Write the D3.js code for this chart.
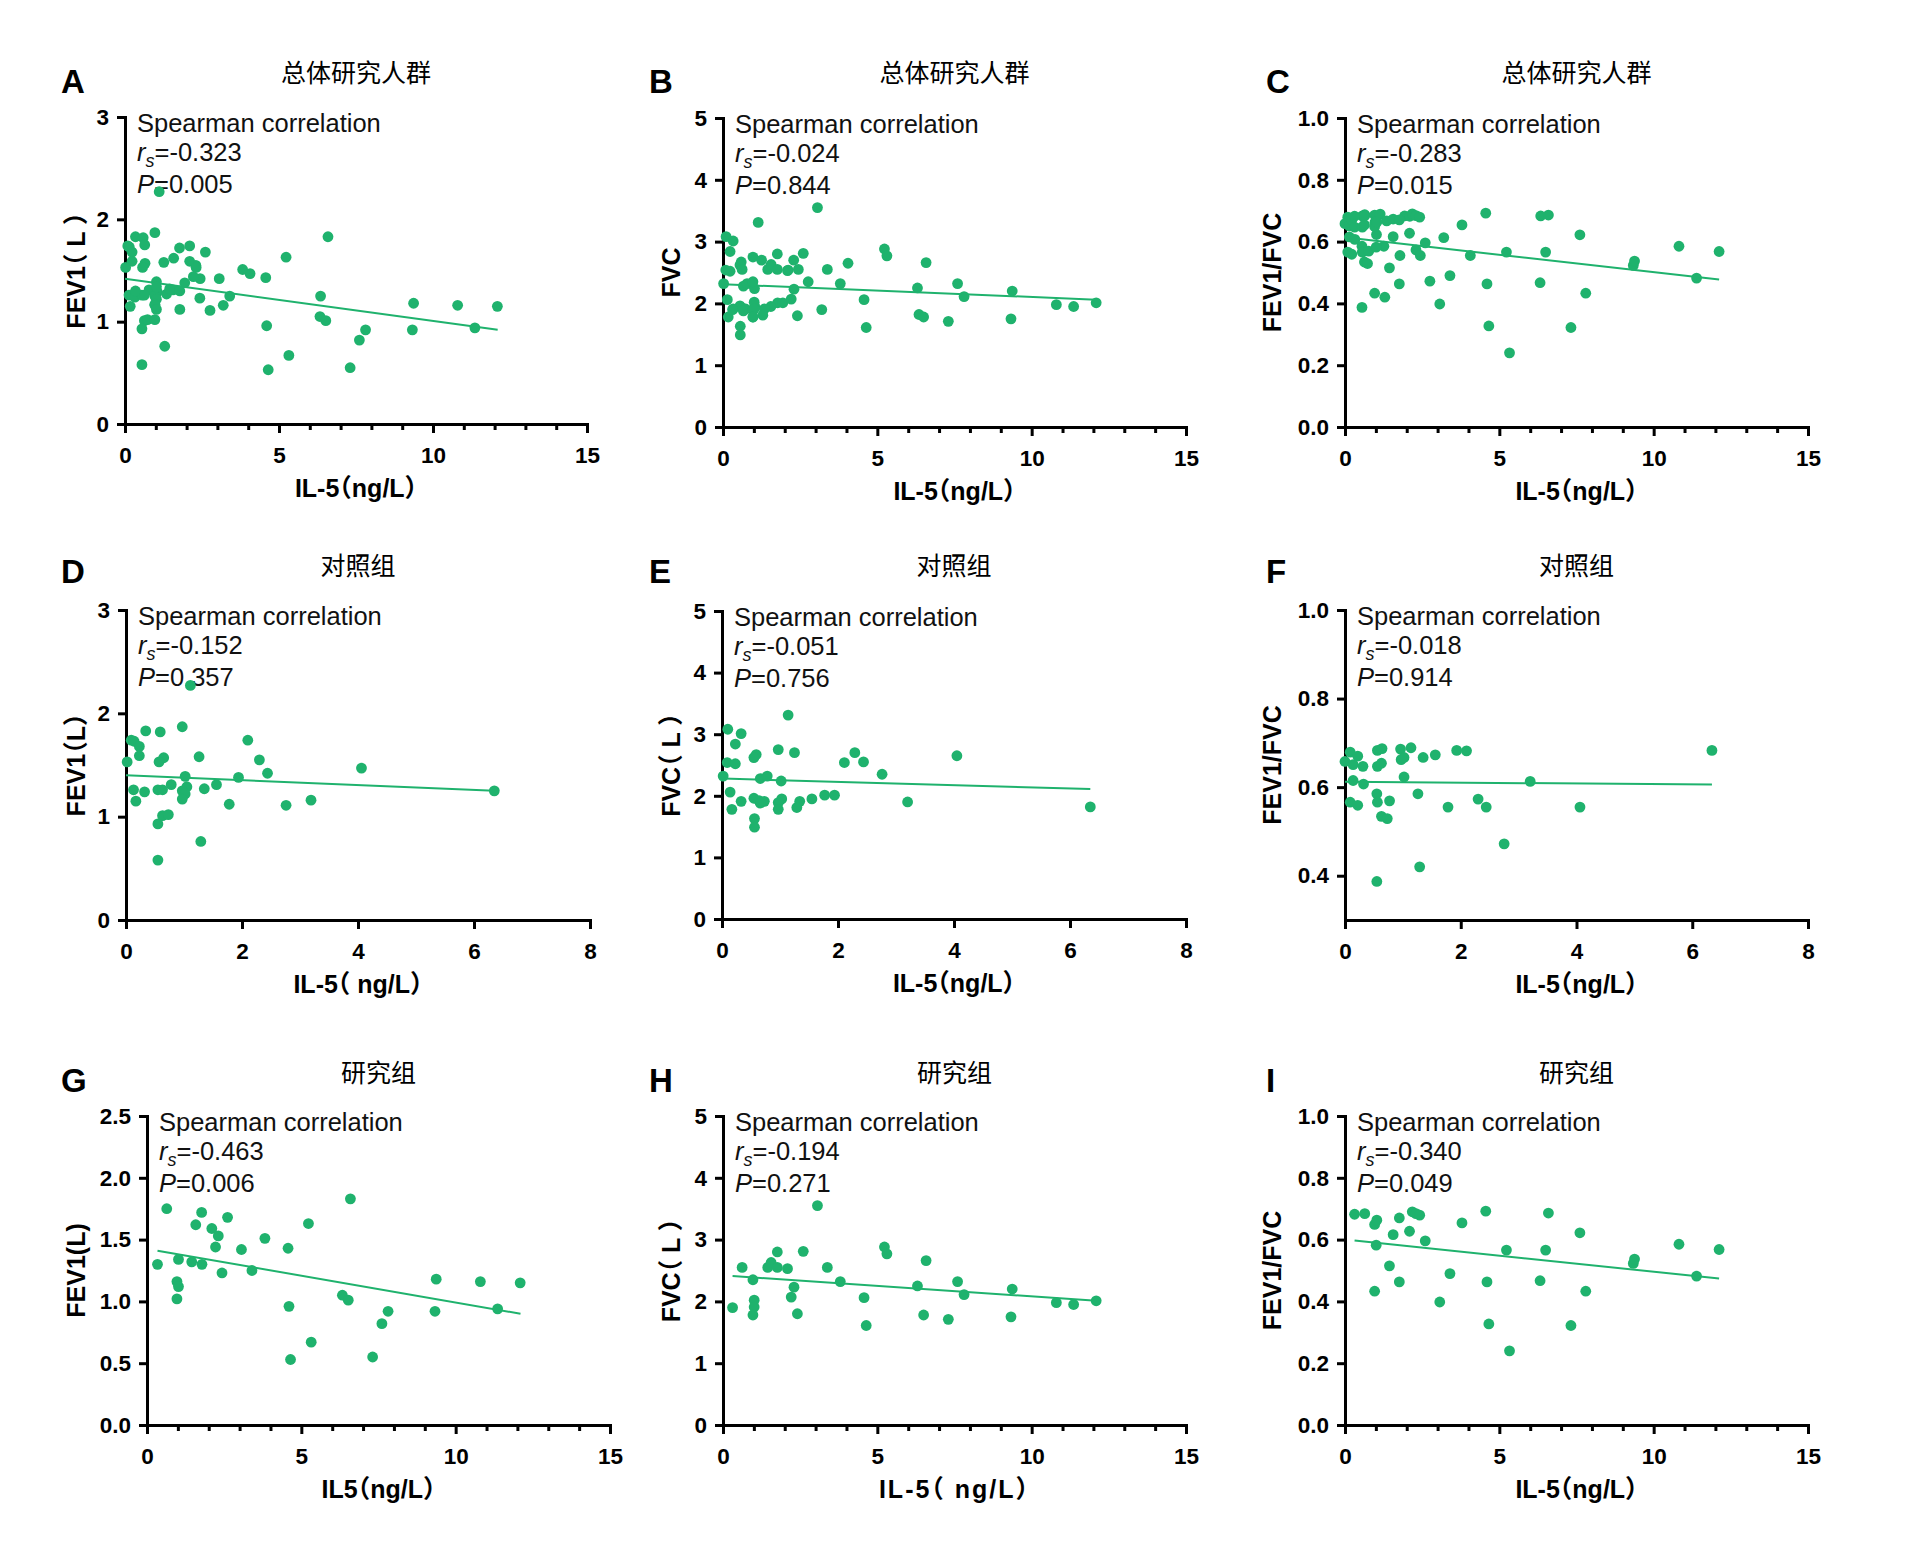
<!DOCTYPE html>
<html>
<head>
<meta charset="utf-8">
<script src="https://cdn.jsdelivr.net/npm/d3@7"></script>
<style>
  body { margin: 0; background: #fff; }
  text { font-family: "Liberation Sans", Arial, "Noto Sans CJK SC", sans-serif; }
</style>
</head>
<body>
<div id="chart"></div>
<script>
const green = "#1fb26d";

// control group (D, E, F) : [IL-5, value]
const ctrlFev1 = [[1.11,2.27],[0.97,1.87],[0.34,1.83],[0.59,1.82],[0.09,1.74],[0.14,1.73],[0.23,1.68],[2.10,1.74],
  [0.23,1.59],[0.65,1.57],[0.57,1.53],[1.26,1.58],[0.02,1.53],[2.30,1.55],[2.44,1.42],[4.06,1.47],[1.94,1.38],
  [1.02,1.39],[0.78,1.31],[1.56,1.31],[0.13,1.26],[0.32,1.24],[0.55,1.26],[0.63,1.26],[1.05,1.29],[0.97,1.25],
  [1.02,1.22],[0.97,1.17],[1.35,1.27],[0.17,1.15],[1.78,1.12],[2.76,1.11],[3.19,1.16],[6.35,1.25],[0.63,1.01],
  [0.73,1.02],[0.55,0.93],[1.29,0.76],[0.55,0.58]];
const ctrlFvc = [[1.14,3.31],[0.10,3.08],[0.33,3.01],[0.23,2.84],[0.97,2.75],[1.25,2.70],[2.29,2.70],[0.59,2.67],
  [0.55,2.62],[4.05,2.65],[2.11,2.54],[2.44,2.55],[0.09,2.54],[0.23,2.52],[2.76,2.35],[0.02,2.32],[0.66,2.28],
  [0.78,2.32],[1.02,2.24],[0.14,2.06],[0.55,1.96],[1.77,2.01],[1.94,2.01],[1.55,1.95],[1.03,1.95],[0.33,1.91],
  [0.64,1.92],[0.73,1.91],[0.66,1.88],[0.97,1.89],[1.34,1.91],[1.29,1.81],[0.97,1.78],[0.17,1.78],[3.20,1.90],
  [6.35,1.82],[0.56,1.63],[0.56,1.49]];
const ctrlRatio = [[0.09,0.679],[0.00,0.658],[0.14,0.651],[0.22,0.670],[0.31,0.647],[0.14,0.615],[0.32,0.607],
  [0.09,0.566],[0.22,0.559],[0.56,0.683],[0.64,0.687],[0.56,0.647],[0.63,0.654],[0.55,0.585],[0.56,0.566],
  [0.63,0.534],[0.73,0.529],[0.77,0.569],[0.55,0.387],[0.96,0.686],[0.97,0.662],[1.02,0.667],[1.14,0.689],
  [1.02,0.623],[1.35,0.667],[1.56,0.673],[1.26,0.585],[1.29,0.420],[1.93,0.683],[2.10,0.682],[1.78,0.555],
  [2.30,0.573],[2.44,0.555],[2.75,0.472],[3.20,0.613],[4.06,0.555],[6.34,0.683]];

// study group (G, H, I)
const studyFev1 = [[0.34,1.30],[0.64,1.75],[1.02,1.34],[0.97,1.16],[1.02,1.12],[0.97,1.02],[1.45,1.32],[1.58,1.62],
  [1.77,1.72],[1.78,1.30],[2.10,1.59],[2.22,1.44],[2.31,1.53],[2.43,1.23],[2.61,1.68],[3.06,1.42],[3.40,1.25],
  [3.82,1.51],[4.57,1.43],[4.60,0.96],[4.65,0.53],[5.23,1.63],[5.32,0.67],[6.33,1.05],[6.52,1.01],[6.59,1.83],
  [7.31,0.55],[7.61,0.82],[7.81,0.92],[9.33,0.92],[9.37,1.18],[10.80,1.16],[11.36,0.94],[12.09,1.15]];
const studyFvc = [[0.31,1.90],[0.62,2.55],[0.97,2.35],[1.01,2.02],[1.01,1.91],[0.97,1.78],[1.45,2.55],[1.56,2.63],
  [1.76,2.80],[1.76,2.55],[2.09,2.53],[2.21,2.07],[2.30,2.23],[2.41,1.80],[2.60,2.81],[3.06,3.55],[3.38,2.55],
  [3.80,2.32],[4.57,2.06],[4.64,1.61],[5.23,2.88],[5.31,2.77],[6.30,2.25],[6.50,1.78],[6.58,2.66],[7.30,1.71],
  [7.60,2.32],[7.81,2.11],[9.33,1.75],[9.37,2.20],[10.80,1.98],[11.36,1.95],[12.09,2.01]];
const studyRatio = [[0.31,0.682],[0.64,0.684],[0.96,0.649],[1.03,0.663],[1.01,0.582],[0.96,0.433],[1.44,0.515],
  [1.56,0.616],[1.76,0.670],[1.76,0.463],[2.09,0.627],[2.18,0.690],[2.30,0.684],[2.42,0.679],[2.60,0.596],
  [3.07,0.398],[3.40,0.490],[3.79,0.654],[4.56,0.692],[4.60,0.463],[4.66,0.327],[5.23,0.566],[5.33,0.240],
  [6.32,0.467],[6.50,0.566],[6.59,0.686],[7.32,0.322],[7.61,0.622],[7.80,0.433],[9.34,0.523],[9.38,0.537],
  [10.82,0.585],[11.39,0.482],[12.12,0.568]];

// whole population = control + study
const allFev1 = ctrlFev1.concat(studyFev1);
const allFvc = ctrlFvc.concat(studyFvc);
const allRatio = ctrlRatio.concat(studyRatio);

// fitted lines, [start, end]
const fitA = [[0, 1.42], [12.1, 0.92]];
const fitB = [[0, 2.31], [12.09, 2.06]];
const fitC = [[0.05, 0.613], [12.12, 0.477]];
const fitD = [[0, 1.40], [6.35, 1.25]];
const fitE = [[0.02, 2.28], [6.35, 2.11]];
const fitF = [[0, 0.612], [6.34, 0.606]];
const fitG = [[0.34, 1.41], [12.1, 0.90]];
const fitH = [[0.31, 2.41], [12.1, 2.01]];
const fitI = [[0.31, 0.597], [12.12, 0.474]];

const panelLetters = ["A","B","C","D","E","F","G","H","I"];
const rsValues = ["-0.323","-0.024","-0.283","-0.152","-0.051","-0.018","-0.463","-0.194","-0.340"];
const pValues = ["0.005","0.844","0.015","0.357","0.756","0.914","0.006","0.271","0.049"];
const groupTitles = ["总体研究人群", "对照组", "研究组"];
const yTitles = ["FEV1（ L ）","FVC","FEV1/FVC","FEV1（L）","FVC（ L ）","FEV1/FVC","FEV1(L)","FVC（ L ）","FEV1/FVC"];
const xTitles = ["IL-5（ng/L）","IL-5（ng/L）","IL-5（ng/L）","IL-5（ ng/L）","IL-5（ng/L）","IL-5（ng/L）",
  "IL5（ng/L）","IL-5（ ng/L）","IL-5（ng/L）"];

const xTicks15 = [0, 5, 10, 15];
const xMinor15 = [1,2,3,4,6,7,8,9,11,12,13,14];
const xTicks8 = [0, 2, 4, 6, 8];
const yTicks3 = [0, 1, 2, 3];
const yTicks5 = [0, 1, 2, 3, 4, 5];
const yTicks25 = [0, 0.5, 1.0, 1.5, 2.0, 2.5];
const yTicksRatio = [0, 0.2, 0.4, 0.6, 0.8, 1.0];
const yTicksRatioCtrl = [0.4, 0.6, 0.8, 1.0];

// layout
const rowLetterY = [93, 583, 1092];
const rowTitleY = [82, 575, 1082];
const colLetterX = [61, 649, 1266];
const colYTitleX = [85, 680, 1281];

const panels = [
  { row:0, col:0, x0:125, x1:587, y0:117, y1:424, xd:[0,15], yd:[0,3], xt:xTicks15, minor:xMinor15, yt:yTicks3, yf:"d", pts:allFev1, fit:fitA },
  { row:0, col:1, x0:723, x1:1186, y0:118, y1:427, xd:[0,15], yd:[0,5], xt:xTicks15, minor:xMinor15, yt:yTicks5, yf:"d", pts:allFvc, fit:fitB },
  { row:0, col:2, x0:1345, x1:1808, y0:118, y1:427, xd:[0,15], yd:[0,1], xt:xTicks15, minor:xMinor15, yt:yTicksRatio, yf:".1f", pts:allRatio, fit:fitC },
  { row:1, col:0, x0:126, x1:590, y0:610, y1:920, xd:[0,8], yd:[0,3], xt:xTicks8, minor:[], yt:yTicks3, yf:"d", pts:ctrlFev1, fit:fitD },
  { row:1, col:1, x0:722, x1:1186, y0:611, y1:919, xd:[0,8], yd:[0,5], xt:xTicks8, minor:[], yt:yTicks5, yf:"d", pts:ctrlFvc, fit:fitE },
  { row:1, col:2, x0:1345, x1:1808, y0:610, y1:920, xd:[0,8], yd:[0.3,1], xt:xTicks8, minor:[], yt:yTicksRatioCtrl, yf:".1f", pts:ctrlRatio, fit:fitF },
  { row:2, col:0, x0:147, x1:610, y0:1116, y1:1425, xd:[0,15], yd:[0,2.5], xt:xTicks15, minor:xMinor15, yt:yTicks25, yf:".1f", pts:studyFev1, fit:fitG },
  { row:2, col:1, x0:723, x1:1186, y0:1116, y1:1425, xd:[0,15], yd:[0,5], xt:xTicks15, minor:xMinor15, yt:yTicks5, yf:"d", pts:studyFvc, fit:fitH, xSpacing:2 },
  { row:2, col:2, x0:1345, x1:1808, y0:1116, y1:1425, xd:[0,15], yd:[0,1], xt:xTicks15, minor:xMinor15, yt:yTicksRatio, yf:".1f", pts:studyRatio, fit:fitI }
];

const svg = d3.select("#chart")
  .append("svg")
  .attr("width", 1920)
  .attr("height", 1566)
  .style("display", "block");

svg.append("rect").attr("width", 1920).attr("height", 1566).attr("fill", "#fff");

panels.forEach((p, i) => {
  const g = svg.append("g");
  const x = d3.scaleLinear().domain(p.xd).range([p.x0, p.x1]);
  const y = d3.scaleLinear().domain(p.yd).range([p.y1, p.y0]);
  const cx = (p.x0 + p.x1) / 2;

  // letter + group title
  g.append("text")
    .attr("x", colLetterX[p.col])
    .attr("y", rowLetterY[p.row])
    .style("font-size", "33px")
    .style("font-weight", "bold")
    .text(panelLetters[i]);

  g.append("text")
    .attr("x", cx)
    .attr("y", rowTitleY[p.row])
    .attr("text-anchor", "middle")
    .style("font-family", "'Noto Sans CJK SC', sans-serif")
    .style("font-size", "25px")
    .text(groupTitles[p.row]);

  // minor x ticks
  if (p.minor.length) {
    const mg = g.append("g")
      .attr("transform", `translate(0,${p.y1})`)
      .call(d3.axisBottom(x).tickValues(p.minor).tickSize(6).tickSizeOuter(0).tickFormat(""));
    mg.select(".domain").remove();
    mg.selectAll("line").attr("stroke", "#000").attr("stroke-width", 3);
  }

  const xg = g.append("g")
    .attr("transform", `translate(0,${p.y1})`)
    .call(d3.axisBottom(x).tickValues(p.xt).tickSize(9).tickSizeOuter(0).tickFormat(d3.format("d")));
  xg.selectAll("text")
    .attr("y", 39).attr("dy", 0)
    .attr("fill", "#000")
    .style("font-size", "22.5px")
    .style("font-weight", "bold")
    .style("font-family", "'Liberation Sans', Arial, sans-serif");

  const yg = g.append("g")
    .attr("transform", `translate(${p.x0},0)`)
    .call(d3.axisLeft(y).tickValues(p.yt).tickSize(8).tickPadding(8).tickSizeOuter(0).tickFormat(d3.format(p.yf)));
  yg.selectAll("text")
    .attr("fill", "#000")
    .style("font-size", "22.5px")
    .style("font-weight", "bold")
    .style("font-family", "'Liberation Sans', Arial, sans-serif");

  [xg, yg].forEach(a => {
    a.select(".domain").attr("stroke", "#000").attr("stroke-width", 3).attr("stroke-linecap", "square");
    a.selectAll(".tick line").attr("stroke", "#000").attr("stroke-width", 3);
  });

  // axis titles (half-width brackets via the 'halt' feature)
  const xt = g.append("text")
    .attr("x", cx)
    .attr("y", p.y1 + 73)
    .attr("text-anchor", "middle")
    .style("font-size", "25px")
    .style("font-weight", "bold")
    .style("font-feature-settings", "'halt' 1")
    .text(xTitles[i]);
  if (p.xSpacing) xt.style("letter-spacing", p.xSpacing + "px");

  g.append("text")
    .attr("transform", `translate(${colYTitleX[p.col]},${(p.y0 + p.y1) / 2}) rotate(-90)`)
    .attr("text-anchor", "middle")
    .style("font-size", "25px")
    .style("font-weight", "bold")
    .style("font-feature-settings", "'halt' 1")
    .text(yTitles[i]);

  // stats text
  const tx = p.x0 + 12;
  g.append("text")
    .attr("x", tx).attr("y", p.y0 + 15)
    .style("font-size", "25.5px").attr("fill", "#111")
    .text("Spearman correlation");

  const t2 = g.append("text")
    .attr("x", tx).attr("y", p.y0 + 44)
    .style("font-size", "25.5px").attr("fill", "#111");
  t2.append("tspan").style("font-style", "italic").text("r");
  t2.append("tspan").style("font-style", "italic").style("font-size", "18px").attr("dy", 6).text("s");
  t2.append("tspan").attr("dy", -6).text("=" + rsValues[i]);

  const t3 = g.append("text")
    .attr("x", tx).attr("y", p.y0 + 76)
    .style("font-size", "25.5px").attr("fill", "#111");
  t3.append("tspan").style("font-style", "italic").text("P");
  t3.append("tspan").text("=" + pValues[i]);

  // fit line
  g.append("line")
    .attr("x1", x(p.fit[0][0])).attr("y1", y(p.fit[0][1]))
    .attr("x2", x(p.fit[1][0])).attr("y2", y(p.fit[1][1]))
    .attr("stroke", green)
    .attr("stroke-width", 2);

  // points
  g.append("g")
    .selectAll("circle")
    .data(p.pts)
    .enter()
    .append("circle")
    .attr("cx", d => x(d[0]))
    .attr("cy", d => y(d[1]))
    .attr("r", 5.4)
    .attr("fill", green);
});
</script>
</body>
</html>
